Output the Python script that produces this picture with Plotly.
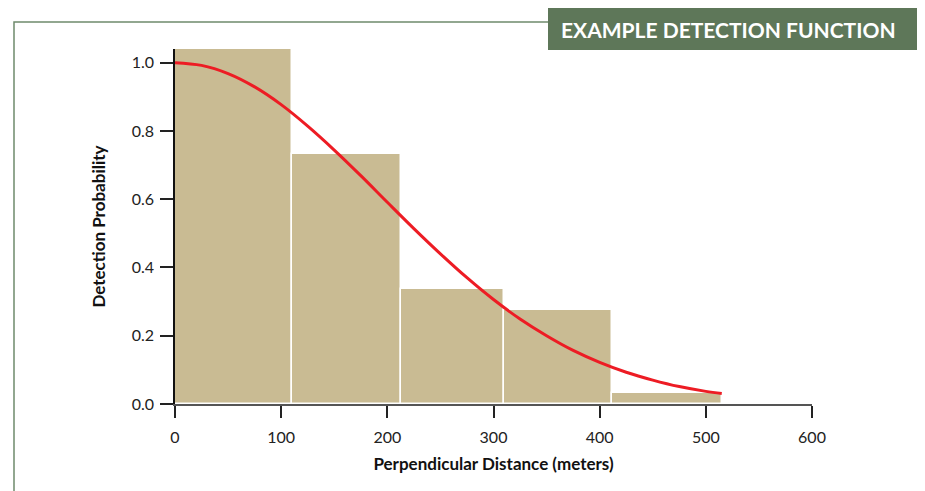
import plotly.graph_objects as go

# Histogram bins (perpendicular distance, meters) and scaled detection heights
bin_edges = [0, 110, 213, 310, 412, 515]
bar_heights = [1.04, 0.733, 0.337, 0.276, 0.032]

# Fitted detection function
curve_x = [0, 25, 50, 75, 100, 125, 150, 175, 200, 225, 250, 275, 300, 325,
           350, 375, 400, 425, 450, 475, 500, 515]
curve_y = [1.0, 0.992, 0.968, 0.929, 0.877, 0.814, 0.744, 0.669, 0.591, 0.514,
           0.440, 0.370, 0.306, 0.249, 0.200, 0.157, 0.122, 0.093, 0.070, 0.051,
           0.037, 0.031]

x_ticks = [0, 100, 200, 300, 400, 500, 600]
y_ticks = [0.0, 0.2, 0.4, 0.6, 0.8, 1.0]
y_tick_text = ["0.0", "0.2", "0.4", "0.6", "0.8", "1.0"]

title_text = "EXAMPLE DETECTION FUNCTION"
x_title = "Perpendicular Distance (meters)"
y_title = "Detection Probability"

centers = [(a + b) / 2 for a, b in zip(bin_edges[:-1], bin_edges[1:])]
widths = [(b - a) for a, b in zip(bin_edges[:-1], bin_edges[1:])]

FONT = "Lato"
GREEN = "#5e7759"

fig = go.Figure()
fig.add_trace(go.Bar(
    x=centers, y=bar_heights, width=widths,
    marker=dict(color="#c9bb93", line=dict(color="white", width=1.5)),
    hoverinfo="skip",
))
fig.add_trace(go.Scatter(
    x=curve_x, y=curve_y, mode="lines",
    line=dict(color="#ed1c24", width=3, shape="spline"),
))

OFF = 8  # page body margin
W, H = 925 - OFF, 491 - OFF
L, R, T, B = 175 - OFF, 113, 49 - OFF, 87
pw, ph = W - L - R, H - T - B

def px(x):
    return (x - OFF - L) / pw

def py(y):
    return (H - B - (y - OFF)) / ph

fig.update_layout(
    width=W, height=H,
    margin=dict(l=L, r=R, t=T, b=B),
    paper_bgcolor="white", plot_bgcolor="white",
    showlegend=False,
    bargap=0,
    font=dict(family=FONT, color="#222222", size=16),
    xaxis=dict(
        range=[0, 600], tickvals=x_ticks, ticks="outside", ticklen=12,
        tickcolor="#222222", tickwidth=1.5,
        showline=True, linecolor="#555555", linewidth=2,
        showgrid=False, zeroline=False, ticklabelstandoff=6,
        tickfont=dict(size=16, family=FONT, color="#222222"),
        title=dict(text="<b>" + x_title + "</b>", font=dict(size=17, family=FONT, color="#111111"),
                   standoff=13),
    ),
    yaxis=dict(
        range=[0, 1.04], tickvals=y_ticks, ticktext=y_tick_text,
        ticks="outside", ticklen=13, tickcolor="#222222", tickwidth=1.5,
        showline=True, linecolor="#111111", linewidth=1.5,
        showgrid=False, zeroline=False, ticklabelstandoff=3,
        tickfont=dict(size=16, family=FONT, color="#222222"),
        title=dict(text="<b>" + y_title + "</b>", font=dict(size=17, family=FONT, color="#111111"),
                   standoff=22),
    ),
    shapes=[
        dict(type="rect", xref="paper", yref="paper",
             x0=px(14), x1=px(921), y0=py(520), y1=py(22),
             line=dict(color="#6f8a6c", width=1.5), fillcolor="rgba(0,0,0,0)", layer="below"),
        dict(type="rect", xref="paper", yref="paper",
             x0=px(548), x1=px(922), y0=py(50), y1=py(7),
             line=dict(width=0), fillcolor=GREEN, layer="above"),
    ],
    annotations=[
        dict(text="<b>" + title_text + "</b>", xref="paper", yref="paper",
             x=px(728), y=py(29), xanchor="center", yanchor="middle", showarrow=False,
             font=dict(family=FONT, size=21, color="white")),
    ],
)

fig.write_html("out.html")
